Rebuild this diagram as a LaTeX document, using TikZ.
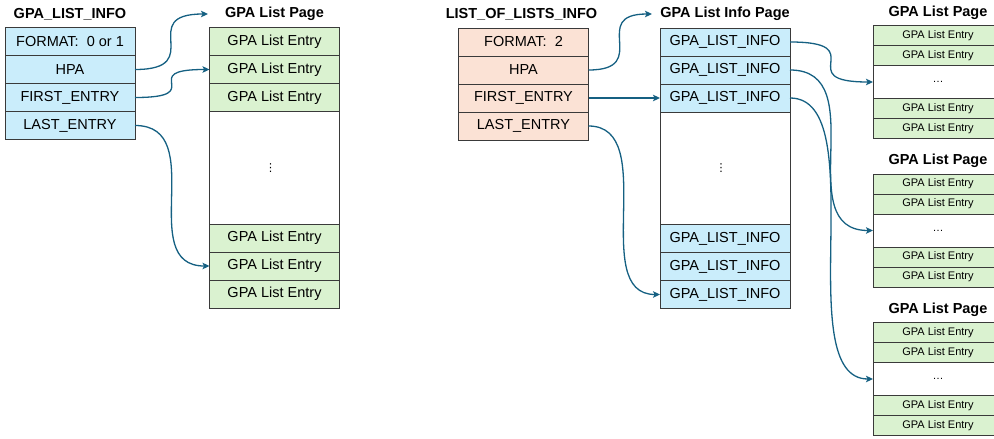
\documentclass[tikz,border=0pt]{standalone}
\usepackage{fontspec}
\setmainfont{Liberation Sans}
\newfontfamily\symfont{DejaVu Sans}
\usetikzlibrary{arrows.meta}
\definecolor{cblue}{HTML}{CAEDFB}
\definecolor{cgreen}{HTML}{DAF2D0}
\definecolor{cpeach}{HTML}{FBE2D5}
\definecolor{cborder}{HTML}{3A3A3A}
\definecolor{carrow}{HTML}{156082}
\begin{document}
\begin{tikzpicture}[x=1pt,y=-1pt,
  cell/.style={draw=cborder, line width=0.9pt, minimum width=130pt, minimum height=28pt,
    inner sep=0pt, outer sep=0pt, anchor=north, font=\fontsize{14.5}{16}\selectfont},
  scell/.style={draw=cborder, line width=0.9pt, minimum width=130pt, minimum height=20pt,
    inner sep=0pt, outer sep=0pt, anchor=north, fill=cgreen, font=\fontsize{11}{13}\selectfont},
  title/.style={font=\bfseries\fontsize{14.5}{16}\selectfont, inner sep=0pt},
  vdot/.style={inner sep=0pt, font=\symfont\fontsize{11}{12}\selectfont},
  conn/.style={draw=carrow, line width=1.3pt, -{Stealth[length=7pt,width=6.5pt,inset=1.5pt]}}
]
\useasboundingbox (0,0) rectangle (994,439);
\clip (0,0) rectangle (994,439);

% ---- Left: GPA_LIST_INFO
\node[title] (tl) at (70,14) {GPA\_LIST\_INFO};
\node[cell, fill=cblue] (l1) at (70,27.5) {FORMAT:\ \ 0 or 1};
\node[cell, fill=cblue] (l2) at (l1.south) {HPA};
\node[cell, fill=cblue] (l3) at (l2.south) {FIRST\_ENTRY};
\node[cell, fill=cblue] (l4) at (l3.south) {LAST\_ENTRY};

% ---- Left page: GPA List Page
\node[title] (tp) at (274.5,14) {GPA List Page};
\node[cell, fill=cgreen] (p1) at (274.5,27.5) {GPA List Entry};
\node[cell, fill=cgreen] (p2) at (p1.south) {GPA List Entry};
\node[cell, fill=cgreen] (p3) at (p2.south) {GPA List Entry};
\node[cell, minimum height=112.5pt] (pb) at (p3.south) {};
\node[vdot] (pd) at ([xshift=-4pt]pb.center) {⋮};
\node[cell, fill=cgreen] (p4) at (pb.south) {GPA List Entry};
\node[cell, fill=cgreen] (p5) at (p4.south) {GPA List Entry};
\node[cell, fill=cgreen] (p6) at (p5.south) {GPA List Entry};

% ---- Middle: LIST_OF_LISTS_INFO
\node[title] (tm) at (521.5,14) {LIST\_OF\_LISTS\_INFO};
\node[cell, fill=cpeach] (m1) at (523.5,28) {FORMAT:\ \ 2};
\node[cell, fill=cpeach] (m2) at (m1.south) {HPA};
\node[cell, fill=cpeach] (m3) at (m2.south) {FIRST\_ENTRY};
\node[cell, fill=cpeach] (m4) at (m3.south) {LAST\_ENTRY};

% ---- GPA List Info Page
\node[title] (ti) at (725,14) {GPA List Info Page};
\node[cell, fill=cblue] (i1) at (725,28) {GPA\_LIST\_INFO};
\node[cell, fill=cblue] (i2) at (i1.south) {GPA\_LIST\_INFO};
\node[cell, fill=cblue] (i3) at (i2.south) {GPA\_LIST\_INFO};
\node[cell, minimum height=112.5pt] (ib) at (i3.south) {};
\node[vdot] (id) at ([xshift=-4pt]ib.center) {⋮};
\node[cell, fill=cblue] (i4) at (ib.south) {GPA\_LIST\_INFO};
\node[cell, fill=cblue] (i5) at (i4.south) {GPA\_LIST\_INFO};
\node[cell, fill=cblue] (i6) at (i5.south) {GPA\_LIST\_INFO};

% ---- Right pages
\foreach \k/\top in {a/25.5, b/174, c/322.5}{
  \node[title] (t\k) at (938,\top-13) {GPA List Page};
  \node[scell] (\k1) at (938,\top) {GPA List Entry};
  \node[scell] (\k2) at (\k1.south) {GPA List Entry};
  \node[scell, fill=white, minimum height=33pt] (\k3) at (\k2.south) {\dots};
  \node[scell] (\k4) at (\k3.south) {GPA List Entry};
  \node[scell] (\k5) at (\k4.south) {GPA List Entry};
}

% ---- Connectors
\coordinate (ta) at (208,14);
\coordinate (tb) at (652,14);
\draw[conn] (l2.east) .. controls +(73,0) and +(-73,0) .. (ta);
\draw[conn] (l3.east) .. controls +(75,0) and +(-75,0) .. (p2.west);
\draw[conn] (l4.east) .. controls +(75,0) and +(-75,0) .. (p5.west);
\draw[conn] (m2.east) .. controls +(64,0) and +(-64,0) .. (tb);
\draw[conn] (m3.east) -- (i3.west);
\draw[conn] (m4.east) .. controls +(72,0) and +(-72,0) .. (i6.west);
\draw[conn] (i1.east) .. controls +(84,0) and +(-84,0) .. (a3.west);
\draw[conn] (i2.east) .. controls +(84,0) and +(-84,0) .. (b3.west);
\draw[conn] (i3.east) .. controls +(84,0) and +(-84,0) .. (c3.west);
\end{tikzpicture}
\end{document}
